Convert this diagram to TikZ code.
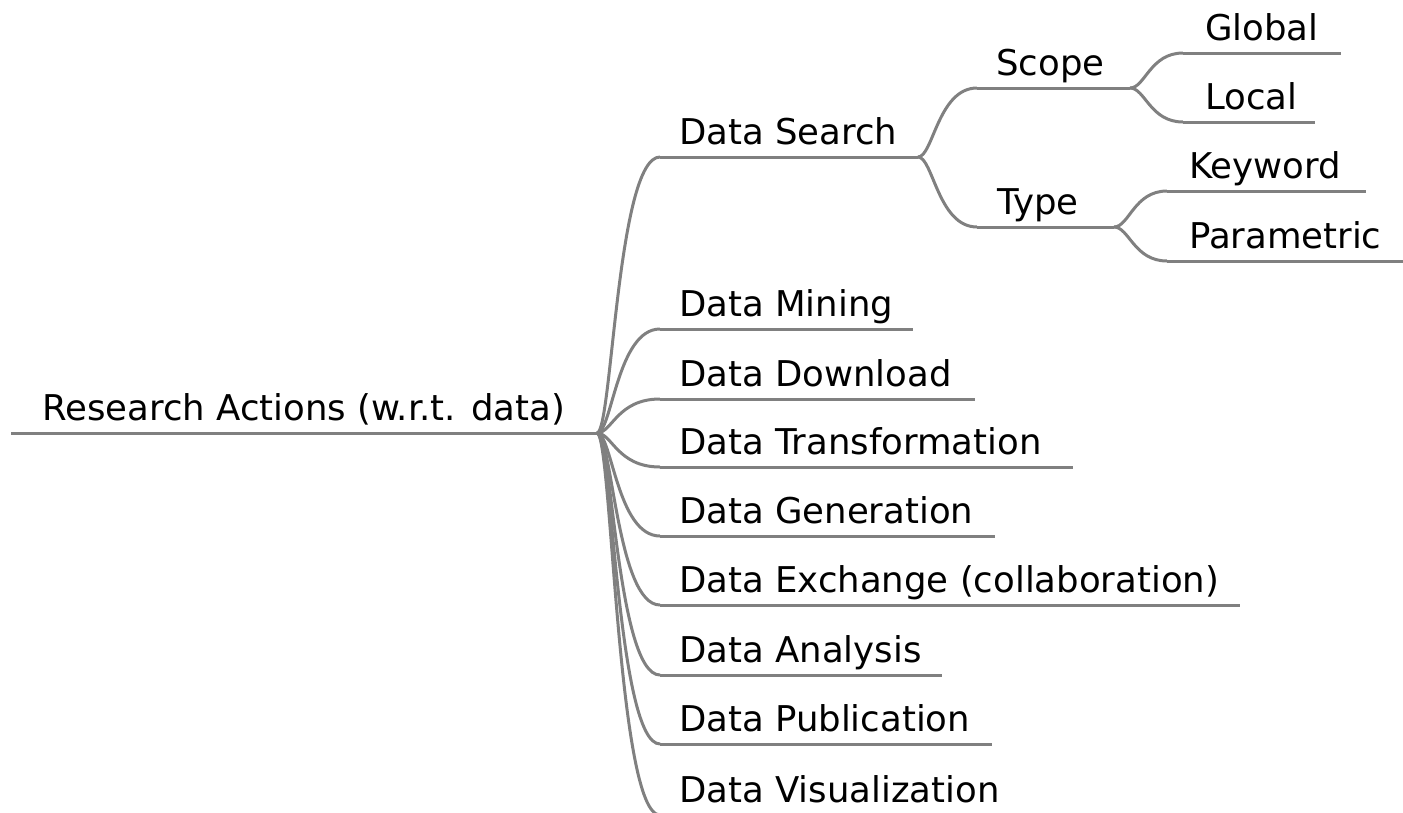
\documentclass[tikz,border=0pt]{standalone}
\usepackage{fontspec}
\setmainfont{DejaVu Sans}
\usetikzlibrary{calc}
\tikzset{
  conn/.style={draw=linegray, line width=3pt},
  branch/.style={to path={.. controls ($(\tikztostart)+(15,0)$) and ($(\tikztostart |- \tikztotarget)+(20,0)$) .. (\tikztotarget)}},
  topic/.style={anchor=base west, inner sep=0pt, font=\fontsize{35.5}{42}\selectfont, text=black}
}
\definecolor{linegray}{RGB}{128,128,128}
\begin{document}
\begin{tikzpicture}[x=1pt,y=-1pt]
\useasboundingbox (0,0) rectangle (1403,812);
% root
\coordinate (r-s) at (11,433);
\coordinate (r-e) at (597,433);
\node[topic] (root) at (42,420.5) {Research Actions (w.r.t. data)};
% level 1
\foreach \nm/\yy/\xe/\txt in {
  ds/157/918/Data Search,
  dm/329/913/Data Mining,
  dd/399/975/Data Download,
  dt/467/1073/Data Transformation,
  dg/536/995/Data Generation,
  dx/605/1240/Data Exchange (collaboration),
  da/675/942/Data Analysis,
  dp/744/992/Data Publication,
  dv/815/1030/Data Visualization}{
  \coordinate (\nm-s) at (660,\yy);
  \coordinate (\nm-e) at (\xe,\yy);
  \node[topic] (\nm) at (679,\yy-12.5) {\txt};
}
% level 2
\coordinate (sc-s) at (977,88);   \coordinate (sc-e) at (1130,88);
\node[topic] (scope) at (996,75.5) {Scope};
\coordinate (ty-s) at (977,227);  \coordinate (ty-e) at (1114,227);
\node[topic] (type) at (997,214.5) {Type};
% level 3
\coordinate (gl-s) at (1183,53);  \coordinate (gl-e) at (1341,53);
\node[topic] (global) at (1205,40.5) {Global};
\coordinate (lo-s) at (1183,122); \coordinate (lo-e) at (1315,122);
\node[topic] (local) at (1205,109.5) {Local};
\coordinate (kw-s) at (1167,191); \coordinate (kw-e) at (1366,191);
\node[topic] (keyword) at (1189,178.5) {Keyword};
\coordinate (pa-s) at (1167,261); \coordinate (pa-e) at (1403,261);
\node[topic] (param) at (1189,248.5) {Parametric};
% underlines
\foreach \nm in {r,ds,dm,dd,dt,dg,dx,da,dp,dv,sc,ty,gl,lo,kw,pa}
  \path[conn] (\nm-s) -- (\nm-e);
% connectors
\foreach \nm in {ds,dm,dd,dt,dg,dx,da,dp,dv}
  \path[conn] (r-e) to[branch] (\nm-s);
\path[conn] (ds-e) to[branch] (sc-s);
\path[conn] (ds-e) to[branch] (ty-s);
\path[conn] (sc-e) to[branch] (gl-s);
\path[conn] (sc-e) to[branch] (lo-s);
\path[conn] (ty-e) to[branch] (kw-s);
\path[conn] (ty-e) to[branch] (pa-s);
\end{tikzpicture}
\end{document}
